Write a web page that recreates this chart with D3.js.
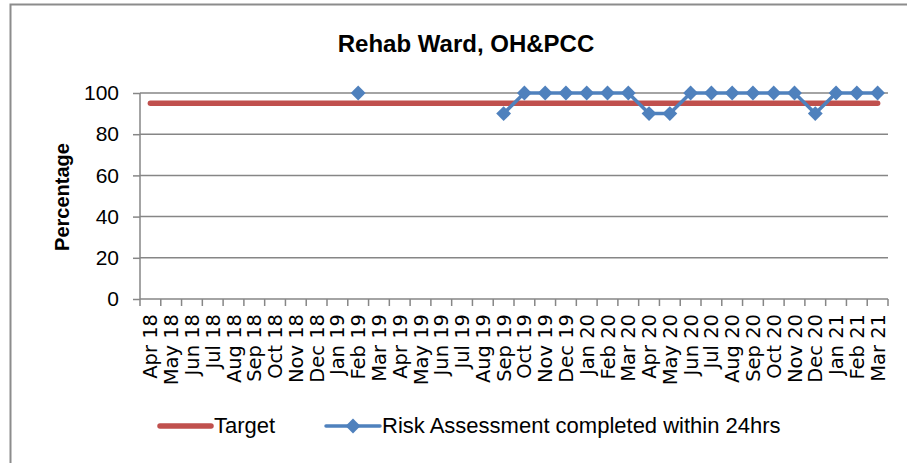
<!DOCTYPE html>
<html>
<head>
<meta charset="utf-8">
<script src="https://cdn.jsdelivr.net/npm/d3@7"></script>
<style>
  body { margin: 0; background: #fff; }
  svg { display: block; }
</style>
</head>
<body>
<div id="chart"></div>
<script>
const months = ["Apr 18", "May 18", "Jun 18", "Jul 18", "Aug 18", "Sep 18", "Oct 18", "Nov 18", "Dec 18",
    "Jan 19", "Feb 19", "Mar 19", "Apr 19", "May 19", "Jun 19", "Jul 19", "Aug 19", "Sep 19", "Oct 19",
    "Nov 19", "Dec 19", "Jan 20", "Feb 20", "Mar 20", "Apr 20", "May 20", "Jun 20", "Jul 20", "Aug 20",
    "Sep 20", "Oct 20", "Nov 20", "Dec 20", "Jan 21", "Feb 21", "Mar 21"];

const target = [95, 95, 95, 95, 95, 95, 95, 95, 95, 95, 95, 95, 95, 95, 95, 95, 95, 95,
    95, 95, 95, 95, 95, 95, 95, 95, 95, 95, 95, 95, 95, 95, 95, 95, 95, 95];

const riskAssessment = [null, null, null, null, null, null, null, null, null, null, 100, null,
    null, null, null, null, null, 90, 100, 100, 100, 100, 100, 100, 90, 90, 100, 100, 100, 100,
    100, 100, 90, 100, 100, 100];

const yTicks = [0, 20, 40, 60, 80, 100];

const width = 907, height = 463;
const plot = { left: 140, right: 888, top: 93, bottom: 299 };
const grey = "#868686";
const red = "#C0504D";
const blue = "#4F81BD";
const calibriLike = "'Liberation Sans', Arial, sans-serif";

const svg = d3.select("#chart")
    .append("svg")
    .attr("width", width)
    .attr("height", height);

// outer frame (only top and left edges are visible)
svg.append("path")
    .attr("d", `M10.5,${height} V4.5 H${width}`)
    .attr("fill", "none")
    .attr("stroke", "#8c8c8c")
    .attr("stroke-width", 2);

const x = d3.scaleBand()
    .domain(months)
    .range([plot.left, plot.right])
    .padding(0);

const y = d3.scaleLinear()
    .domain([0, 100])
    .range([plot.bottom, plot.top]);

const xc = (i) => x(months[i]) + x.bandwidth() / 2;

// gridlines
svg.append("g")
    .selectAll("line")
    .data(yTicks.filter(d => d > 0))
    .enter()
    .append("line")
    .attr("x1", plot.left)
    .attr("x2", plot.right)
    .attr("y1", d => y(d))
    .attr("y2", d => y(d))
    .attr("stroke", grey)
    .attr("stroke-width", 1.5);

// Y axis
const yAxis = svg.append("g")
    .attr("transform", `translate(${plot.left},0)`)
    .call(d3.axisLeft(y).tickValues(yTicks).tickSize(7).tickPadding(14));
yAxis.selectAll("line, path").attr("stroke", grey).attr("stroke-width", 1.5);
yAxis.select(".domain").attr("d", `M0,${plot.top}V${plot.bottom}`);
yAxis.selectAll("text")
    .style("font-family", calibriLike)
    .style("font-size", "21px")
    .attr("fill", "#000");

// X axis: ticks at category boundaries
const xAxis = svg.append("g")
    .attr("transform", `translate(0,${plot.bottom})`);
xAxis.append("line")
    .attr("x1", plot.left)
    .attr("x2", plot.right)
    .attr("stroke", grey)
    .attr("stroke-width", 1.5);
xAxis.selectAll(".tick")
    .data(months.concat(["end"]))
    .enter()
    .append("line")
    .attr("x1", (d, i) => i < months.length ? x(d) : plot.right)
    .attr("x2", (d, i) => i < months.length ? x(d) : plot.right)
    .attr("y1", 0)
    .attr("y2", 7)
    .attr("stroke", grey)
    .attr("stroke-width", 1.5);
xAxis.selectAll("text")
    .data(months)
    .enter()
    .append("text")
    .attr("transform", (d, i) => `translate(${xc(i) + 7},15) rotate(-90)`)
    .attr("text-anchor", "end")
    .style("font-family", "'DejaVu Sans', sans-serif")
    .style("font-size", "19.5px")
    .text(d => d);

// Y axis title
svg.append("text")
    .attr("transform", `translate(69,197) rotate(-90)`)
    .attr("text-anchor", "middle")
    .style("font-family", calibriLike)
    .style("font-weight", "bold")
    .style("font-size", "20px")
    .text("Percentage");

// chart title
svg.append("text")
    .attr("x", 466)
    .attr("y", 52)
    .attr("text-anchor", "middle")
    .style("font-family", calibriLike)
    .style("font-weight", "bold")
    .style("font-size", "24px")
    .text("Rehab Ward, OH&PCC");

// Target line
const targetLine = d3.line()
    .x((d, i) => xc(i))
    .y(d => y(d));
svg.append("path")
    .datum(target)
    .attr("d", targetLine)
    .attr("fill", "none")
    .attr("stroke", red)
    .attr("stroke-width", 5.5)
    .attr("stroke-linecap", "round");

// Risk assessment line
const riskLine = d3.line()
    .defined(d => d !== null)
    .x((d, i) => xc(i))
    .y(d => y(d));
svg.append("path")
    .datum(riskAssessment)
    .attr("d", riskLine)
    .attr("fill", "none")
    .attr("stroke", blue)
    .attr("stroke-width", 3.5)
    .attr("stroke-linejoin", "round");

const diamond = d3.symbol().type(d3.symbolSquare).size(110);
svg.append("g")
    .selectAll("path")
    .data(riskAssessment.map((v, i) => ({ v, i })).filter(d => d.v !== null))
    .enter()
    .append("path")
    .attr("d", diamond)
    .attr("transform", d => `translate(${xc(d.i)},${y(d.v)}) rotate(45)`)
    .attr("fill", blue);

// Legend
const legend = svg.append("g");
legend.append("line")
    .attr("x1", 160).attr("x2", 211)
    .attr("y1", 426).attr("y2", 426)
    .attr("stroke", red)
    .attr("stroke-width", 5.5)
    .attr("stroke-linecap", "round");
legend.append("text")
    .attr("x", 214).attr("y", 433)
    .style("font-family", calibriLike)
    .style("font-size", "22px")
    .text("Target");
legend.append("line")
    .attr("x1", 326).attr("x2", 380)
    .attr("y1", 426).attr("y2", 426)
    .attr("stroke", blue)
    .attr("stroke-width", 3.5)
    .attr("stroke-linecap", "round");
legend.append("path")
    .attr("d", diamond)
    .attr("transform", "translate(353,426) rotate(45)")
    .attr("fill", blue);
legend.append("text")
    .attr("x", 382).attr("y", 433)
    .style("font-family", calibriLike)
    .style("font-size", "22px")
    .text("Risk Assessment completed within 24hrs");
</script>
</body>
</html>
